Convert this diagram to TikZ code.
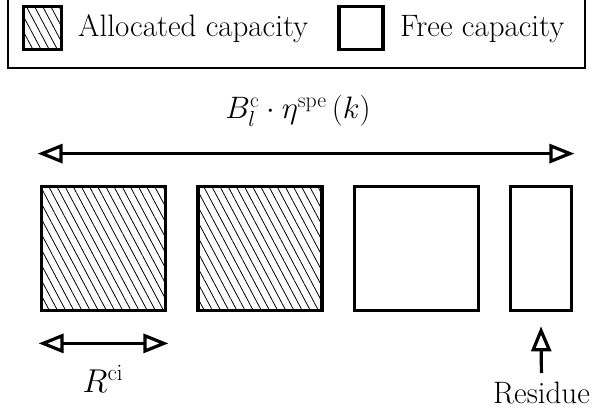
\documentclass[tikz,border=0pt]{standalone}
\usepackage{fix-cm}
\usepackage{amsmath}
\usetikzlibrary{arrows.meta,positioning,patterns.meta,calc}

\begin{document}
\begin{tikzpicture}[x=1pt,y=-1pt,
  blk/.style={draw,line width=3.8pt,inner sep=0pt,minimum height=124pt},
  hatch/.style={pattern={Lines[angle=-62,distance=7.2pt,line width=0.8pt]}},
  plain/.style={},
  dimarr/.style={line width=3.2pt,{Triangle[open,length=25pt,width=19pt]}-{Triangle[open,length=25pt,width=19pt]}},
  txt/.style={font=\fontsize{31}{37}\selectfont,inner sep=0pt}]
\useasboundingbox (0,0) rectangle (595,417);
% legend
\draw[line width=2pt] (8,-3) rectangle (585,68);
\node[draw,line width=3.8pt,hatch,minimum width=38pt,minimum height=43pt] (keyA) at (42.5,28) {};
\node[txt,anchor=west] (keyAtxt) at (78,29) {Allocated capacity};
\node[draw,line width=3.8pt,minimum width=44pt,minimum height=43pt] (keyF) at (361,28) {};
\node[txt,anchor=west] (keyFtxt) at (400,29) {Free capacity};
% resource blocks
\foreach \nm/\x/\w/\st in {alloc1/103.5/124/hatch,alloc2/260/124/hatch,free1/416.5/124/plain,rest/541/61/plain}
  \node[blk,\st,minimum width=\w pt] (\nm) at (\x,248.5) {};
\draw[dimarr] ($(alloc1.north west)+(-2,-31)$) -- ($(rest.north east)+(1,-31)$);
\node[txt] (bw) at (298,111) {$B_l^{\mathrm{c}}\cdot\eta^{\mathrm{spe}}\left(k\right)$};
\draw[dimarr] ($(alloc1.south west)+(-1,31)$) -- ($(alloc1.south east)+(1,31)$);
\node[txt,font=\fontsize{33}{39}\selectfont] (rci) at (103,379) {$R^{\mathrm{ci}}$};
\node[txt,anchor=north] (restxt) at (541.5,382) {Residue};
\draw[line width=3.2pt,-{Triangle[open,length=25pt,width=20pt]},shorten <=9pt] (restxt.north) -- ($(rest.south)+(0,14)$);
\end{tikzpicture}
\end{document}
